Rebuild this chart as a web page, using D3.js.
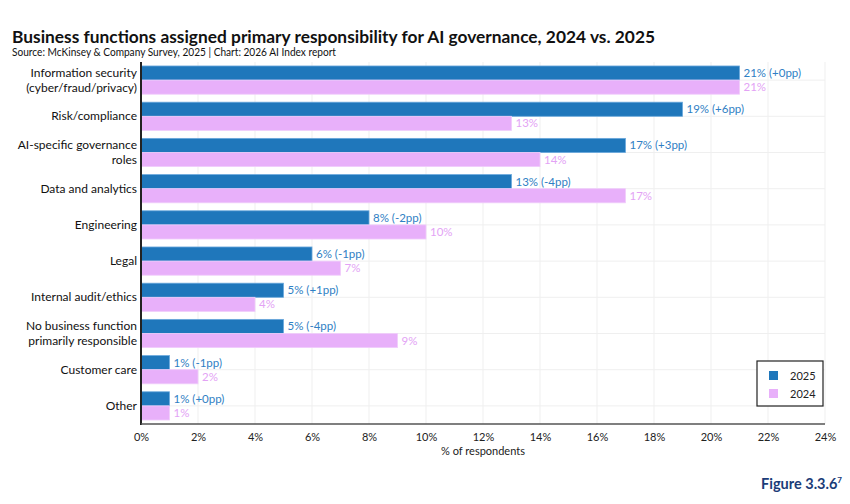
<!DOCTYPE html>
<html><head><meta charset="utf-8">
<script src="https://cdn.jsdelivr.net/npm/d3@7"></script>
<style>body{margin:0;background:#fff;font-family:Lato,"Noto Sans",sans-serif;} text{font-family:Lato,"Noto Sans",sans-serif;}</style>
</head><body><svg id="c" width="850" height="504"></svg>
<script>
const categories = [
  ["Information security","(cyber/fraud/privacy)"],
  ["Risk/compliance"],
  ["AI-specific governance","roles"],
  ["Data and analytics"],
  ["Engineering"],
  ["Legal"],
  ["Internal audit/ethics"],
  ["No business function","primarily responsible"],
  ["Customer care"],
  ["Other"]
];
const values2025 = [21,19,17,13,8,6,5,5,1,1];
const values2024 = [21,13,14,17,10,7,4,9,2,1];
const changeLabels = ["+0pp","+6pp","+3pp","-4pp","-2pp","-1pp","+1pp","-4pp","-1pp","+0pp"];
const xTicks = [0,2,4,6,8,10,12,14,16,18,20,22,24];
const seriesNames = ["2025","2024"];

const svg = d3.select("#c");
const L=141, R=825, T=62, B=424;
const x = d3.scaleLinear().domain([0,24]).range([L,R]);
const y = d3.scaleBand().domain(d3.range(categories.length)).range([T,B]).paddingInner(0.22).paddingOuter(0.11);
const blue="#1f77bb", pink="#e8b0fa", blueTxt="#2f80c4", pinkTxt="#e3a3f5";

// title
svg.append("text").attr("x",12).attr("y",43).attr("font-size",17.5).attr("font-weight",700).attr("fill","#111")
  .attr("textLength",643).attr("lengthAdjust","spacingAndGlyphs")
  .text("Business functions assigned primary responsibility for AI governance, 2024 vs. 2025");
svg.append("text").attr("x",12).attr("y",56).attr("font-size",10.5).attr("fill","#111")
  .attr("textLength",324).attr("lengthAdjust","spacingAndGlyphs")
  .text("Source: McKinsey & Company Survey, 2025 | Chart: 2026 AI Index report");

// grid
const g = svg.append("g");
g.selectAll(".vg").data(xTicks).join("line").attr("x1",d=>x(d)).attr("x2",d=>x(d)).attr("y1",T).attr("y2",B)
  .attr("stroke","#efefef").attr("stroke-width",1);
g.selectAll(".hg").data(d3.range(categories.length)).join("line").attr("x1",L).attr("x2",R)
  .attr("y1",d=>y(d)+y.bandwidth()/2).attr("y2",d=>y(d)+y.bandwidth()/2).attr("stroke","#efefef");

const bh = y.bandwidth()/2;
// bars
g.selectAll(".b25").data(values2025).join("rect").attr("x",x(0)).attr("y",(d,i)=>y(i))
  .attr("width",d=>x(d)-x(0)).attr("height",bh).attr("fill",blue).attr("stroke","#6aa8dc").attr("stroke-width",0.8);
g.selectAll(".b24").data(values2024).join("rect").attr("x",x(0)).attr("y",(d,i)=>y(i)+bh)
  .attr("width",d=>x(d)-x(0)).attr("height",bh).attr("fill",pink).attr("stroke","#f0cdfb").attr("stroke-width",0.8);

// labels
g.selectAll(".l25").data(values2025).join("text").attr("x",d=>x(d)+4).attr("y",(d,i)=>y(i)+bh/2+4)
  .attr("font-size",11.5).attr("fill",blueTxt).text((d,i)=>`${d}% (${changeLabels[i]})`);
g.selectAll(".l24").data(values2024).join("text").attr("x",d=>x(d)+4).attr("y",(d,i)=>y(i)+bh*1.5+4)
  .attr("font-size",11.5).attr("fill",pinkTxt).text(d=>`${d}%`);

// y labels
categories.forEach((lines,i)=>{
  const cy = y(i)+y.bandwidth()/2;
  const t = svg.append("text").attr("text-anchor","end").attr("font-size",12).attr("fill","#111");
  lines.forEach((s,j)=>{
    t.append("tspan").attr("x",L-4).attr("y",cy+4+(j-(lines.length-1)/2)*15).text(s);
  });
});

// axes lines
svg.append("line").attr("x1",L).attr("x2",L).attr("y1",T).attr("y2",B+1).attr("stroke","#222").attr("stroke-width",2);
svg.append("line").attr("x1",L).attr("x2",R).attr("y1",B).attr("y2",B).attr("stroke","#555").attr("stroke-width",1.5);

// x ticks
const xa = svg.append("g").attr("transform",`translate(0,${B})`).call(d3.axisBottom(x).tickValues(xTicks).tickFormat(d=>d+"%").tickSize(0).tickPadding(9));
xa.select(".domain").remove();
xa.selectAll("text").attr("font-size",11).attr("fill","#222").attr("font-family","Lato,sans-serif");
svg.append("text").attr("x",(L+R)/2).attr("y",455).attr("text-anchor","middle").attr("font-size",11).attr("fill","#222").text("% of respondents");

// legend
const lg = svg.append("g").attr("transform","translate(757,361)");
lg.append("rect").attr("width",66).attr("height",45).attr("fill","#fff").attr("stroke","#222").attr("stroke-width",1.2);
[blue,pink].forEach((c,i)=>{
  lg.append("rect").attr("x",12).attr("y",10+i*18).attr("width",9).attr("height",9).attr("fill",c);
  lg.append("text").attr("x",33).attr("y",18.5+i*18).attr("font-size",11).attr("fill","#222").text(seriesNames[i]);
});

// figure label
const fl = svg.append("text").attr("x",842).attr("y",489).attr("text-anchor","end").attr("font-size",14.5).attr("font-weight",700).attr("fill","#1b3c78");
fl.append("tspan").text("Figure 3.3.6");
fl.append("tspan").attr("font-size",8).attr("dy",-6).text("7");
</script></body></html>
